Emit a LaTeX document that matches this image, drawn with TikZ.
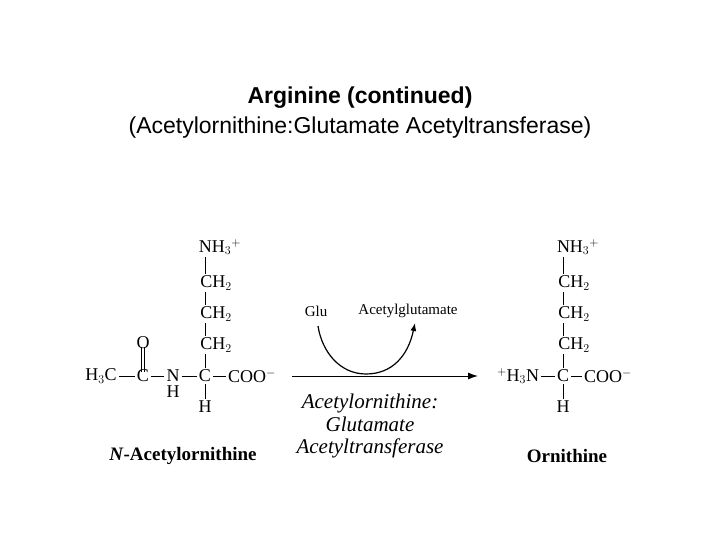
\documentclass[tikz,border=0pt]{standalone}
\usepackage{fontspec}
\setmainfont{Liberation Serif}
\newfontfamily\ttl{Liberation Sans}
\usetikzlibrary{arrows.meta}
\begin{document}
\begin{tikzpicture}[x=1pt,y=-1pt,
  chem/.style={inner sep=0pt,font=\fontsize{18}{20}\selectfont},
  bnd/.style={line width=0.9pt,shorten <=2pt,shorten >=2pt},
  ttlstyle/.style={font=\ttl\fontsize{23}{26}\selectfont},
  enz/.style={anchor=base,font=\itshape\fontsize{21}{24}\selectfont},
  lab/.style={font=\bfseries\fontsize{19}{22}\selectfont}]
\useasboundingbox (0,0) rectangle (720,540);
\node[ttlstyle,font=\ttl\bfseries\fontsize{23}{26}\selectfont] (t1) at (360,98) {Arginine (continued)};
\node[ttlstyle] (t2) at (360,128) {(Acetylornithine:Glutamate Acetyltransferase)};
% left molecule
\node[chem] (lnh) at (220,247) {NH$_3$$^+$};
\node[chem] (lc1) at (216,283) {CH$_2$};
\node[chem] (lc2) at (216,314) {CH$_2$};
\node[chem] (lc3) at (216,345) {CH$_2$};
\node[chem] (lh3c) at (101,376) {H$_3$C};
\node[chem] (lco) at (143,376) {C};
\node[chem] (lo) at (143,343) {O};
\node[chem] (ln) at (173,376) {N};
\node[chem] (lnH) at (173,392) {H};
\node[chem] (lca) at (205,376) {C};
\node[chem] (lcoo) at (252,376) {COO$^-$};
\node[chem] (lh) at (205,407) {H};
\draw[bnd] (lnh.south -| lca) -- (lc1.north -| lca);
\draw[bnd] (lc1.south -| lca) -- (lc2.north -| lca);
\draw[bnd] (lc2.south -| lca) -- (lc3.north -| lca);
\draw[bnd] (lc3.south -| lca) -- (lca.north);
\draw[bnd] (lca.south) -- (lh.north);
\draw[bnd] (lh3c.east) -- (lco.west);
\draw[bnd] (lco.east) -- (ln.west);
\draw[bnd] (ln.east) -- (lca.west);
\draw[bnd] (lca.east) -- (lcoo.west);
\draw[line width=0.9pt] ([xshift=-1.5pt,yshift=-2pt]lco.north) -- ([xshift=-1.5pt,yshift=2pt]lo.south);
\draw[line width=0.9pt] ([xshift=1.5pt,yshift=-2pt]lco.north) -- ([xshift=1.5pt,yshift=2pt]lo.south);
\node[lab] (l1) at (183,456) {\textit{N}-Acetylornithine};
% right molecule
\node[chem] (rnh) at (578,247) {NH$_3$$^+$};
\node[chem] (rc1) at (574,283) {CH$_2$};
\node[chem] (rc2) at (574,314) {CH$_2$};
\node[chem] (rc3) at (574,345) {CH$_2$};
\node[chem] (rn) at (518,376) {$^+$H$_3$N};
\node[chem] (rca) at (563,376) {C};
\node[chem] (rcoo) at (608,376) {COO$^-$};
\node[chem] (rh) at (563,407) {H};
\draw[bnd] (rnh.south -| rca) -- (rc1.north -| rca);
\draw[bnd] (rc1.south -| rca) -- (rc2.north -| rca);
\draw[bnd] (rc2.south -| rca) -- (rc3.north -| rca);
\draw[bnd] (rc3.south -| rca) -- (rca.north);
\draw[bnd] (rca.south) -- (rh.north);
\draw[bnd] (rn.east) -- (rca.west);
\draw[bnd] (rca.east) -- (rcoo.west);
\node[lab] (l2) at (567,456) {Ornithine};
% reaction
\coordinate (as) at (292,376);
\coordinate (ae) at (478,376);
\draw[line width=1pt,-{Latex[length=10pt,width=7pt]}] (as) -- (ae);
\node[chem,font=\fontsize{15}{17}\selectfont] (glu) at (316,311) {Glu};
\node[chem,font=\fontsize{15}{17}\selectfont] (ag) at (408,311) {Acetylglutamate};
\coordinate (cs) at (318,326);
\coordinate (cm) at (366,374);
\coordinate (ce) at (415,323);
\draw[line width=1.2pt,-{Latex[length=8pt,width=6pt]}] (cs) .. controls (322,352) and (340,374) .. (cm) .. controls (392,374) and (408,356) .. (ce);
\node[enz] (e1) at (370,408) {Acetylornithine:};
\node[enz] (e2) at (370,431) {Glutamate};
\node[enz] (e3) at (370,453) {Acetyltransferase};
\end{tikzpicture}
\end{document}
